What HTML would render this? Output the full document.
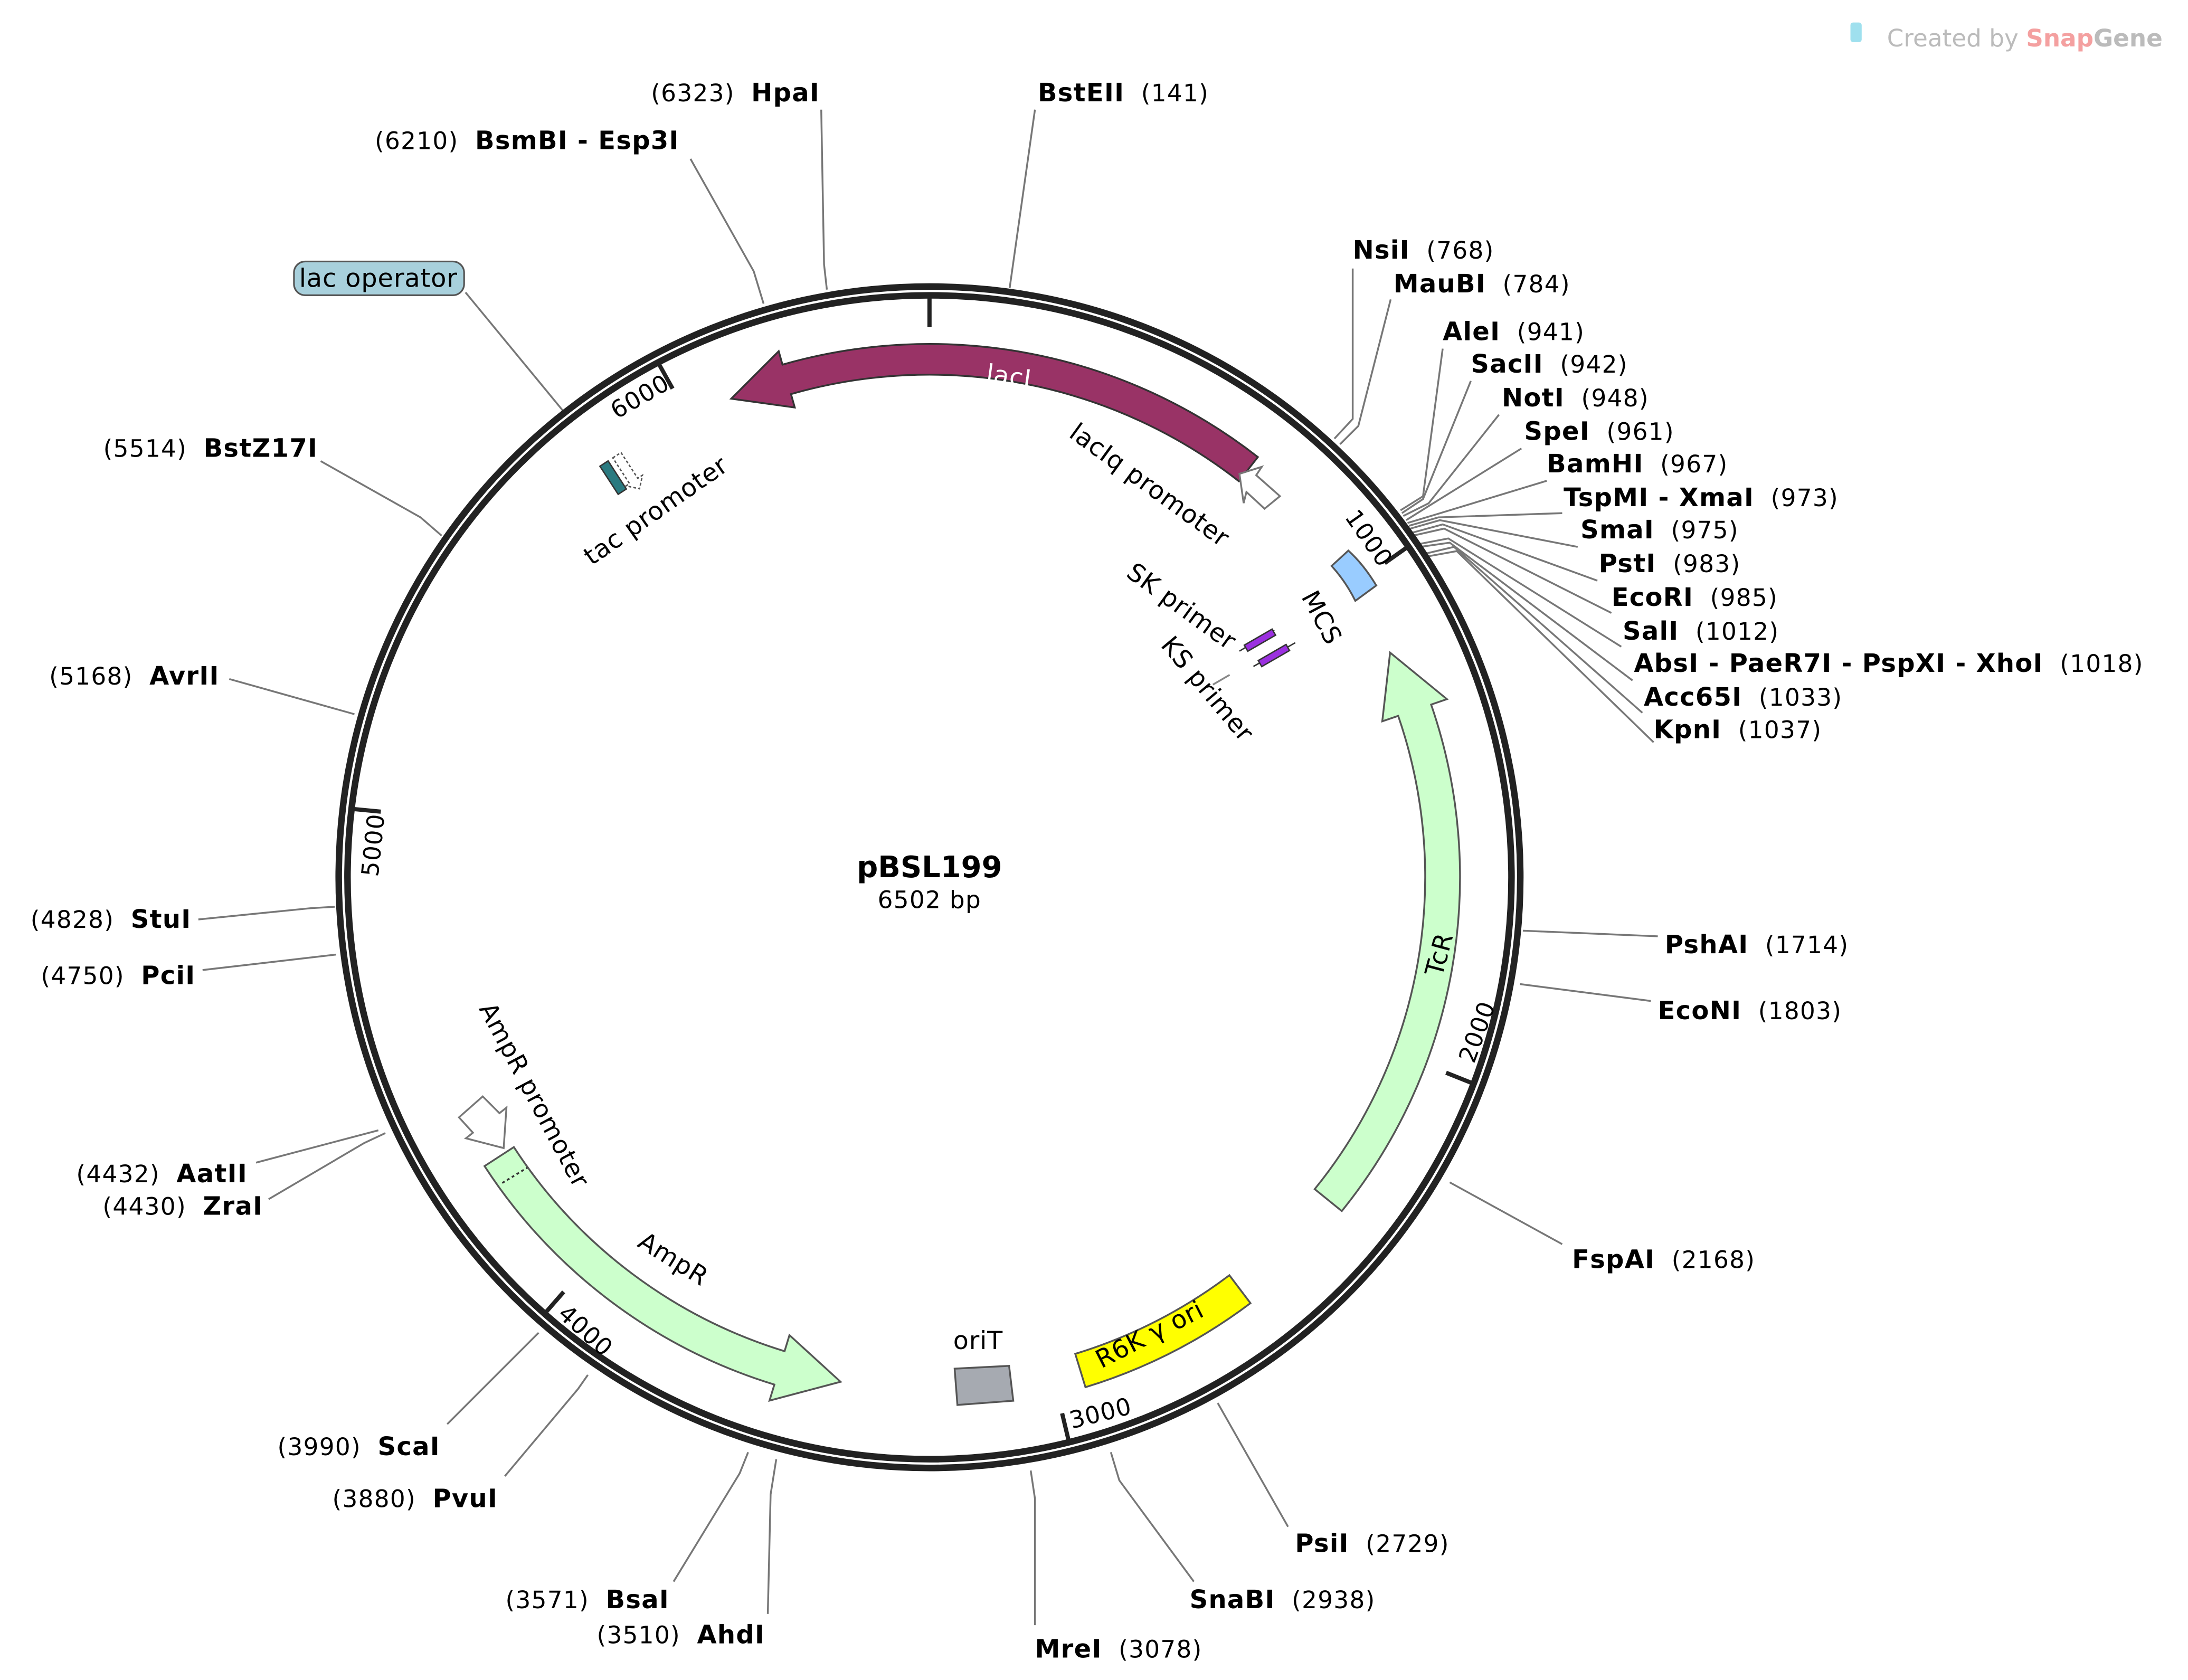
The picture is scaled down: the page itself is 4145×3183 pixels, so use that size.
<!DOCTYPE html>
<html><head><meta charset="utf-8"><style>
html,body{margin:0;padding:0;background:#fff;}
svg{display:block;}
text{font-family:"DejaVu Sans","Liberation Sans",sans-serif;fill:#000;white-space:pre;}
.n{font-weight:bold;font-size:18px;letter-spacing:0.5px;}
.p{font-size:17px;letter-spacing:0.5px;}
.f{font-size:18px;letter-spacing:0.3px;}
.l{stroke:#777;stroke-width:1.3;fill:none;}
</style></head><body>
<svg width="4145" height="3183" viewBox="0 0 1556 1195" xmlns="http://www.w3.org/2000/svg" xml:space="preserve">
<rect width="1556" height="1195" fill="#fff"/>
<text x="1342" y="33" style="font-size:17px;fill:#bbb">Created by <tspan style="fill:#f4a0a0;font-weight:bold">Snap</tspan><tspan style="fill:#bbb;font-weight:bold">Gene</tspan></text>
<rect x="1316" y="16" width="8" height="14" rx="2" fill="#9fe0ee"/>

<g transform="translate(-4,-2)">
<!-- site lines -->
<polyline class="l" points="592,208 590,190 588,80"/>
<polyline class="l" points="722,207 740,80"/>
<polyline class="l" points="547,218 540,195 495,115"/>
<polyline class="l" points="318,383 303,370 232,330"/>
<polyline class="l" points="256,510 167,485"/>
<polyline class="l" points="242,647 225,648 145,656"/>
<polyline class="l" points="243,681 148,692"/>
<polyline class="l" points="273,806 186,829"/>
<polyline class="l" points="278,808 263,815 195,855"/>
<polyline class="l" points="387,950 322,1015"/>
<polyline class="l" points="422,980 415,990 363,1052"/>
<polyline class="l" points="536,1035 530,1050 483,1127"/>
<polyline class="l" points="556,1040 552,1065 550,1150"/>
<polyline class="l" points="737,1048 740,1068 740,1158"/>
<polyline class="l" points="794,1035 800,1055 853,1127"/>
<polyline class="l" points="870,1000 920,1088"/>
<polyline class="l" points="1035,843 1115,887"/>
<polyline class="l" points="1085,702 1178,714"/>
<polyline class="l" points="1087,664 1183,668"/>
<polyline class="l" points="953,314 966,300 966,193"/>
<polyline class="l" points="957,318 970,305 993,215"/>
<polyline class="l" points="1000,365 1016,355 1030,250"/>
<polyline class="l" points="1001,367 1016,357 1050,273"/>
<polyline class="l" points="1002,369 1020,360 1070,297"/>
<polyline class="l" points="1004,372 1020,362 1086,321"/>
<polyline class="l" points="1005,374 1025,368 1104,344"/>
<polyline class="l" points="1006,376 1027,370 1115,367"/>
<polyline class="l" points="1007,378 1028,372 1126,391"/>
<polyline class="l" points="1008,381 1030,375 1140,415"/>
<polyline class="l" points="1009,383 1031,378 1150,438"/>
<polyline class="l" points="1013,389 1034,385 1157,462"/>
<polyline class="l" points="1014,391 1035,388 1165,486"/>
<polyline class="l" points="1017,396 1038,391 1172,509"/>
<polyline class="l" points="1018,398 1040,394 1180,530"/>
<polyline class="l" points="405,295 335,210"/>
</g>

<g transform="translate(661,624) scale(0.993) translate(-665,-628)">
<!-- backbone -->
<circle cx="665" cy="628" r="420" fill="none" stroke="#222" stroke-width="11"/>
<circle cx="665" cy="628" r="420" fill="none" stroke="#fff" stroke-width="1.6"/>

<!-- ticks -->
<g stroke="#222" stroke-width="3">
<line x1="665" y1="213" x2="665" y2="234"/>
<line x1="1008" y1="391" x2="991" y2="403"/>
<line x1="1055" y1="776" x2="1035" y2="768"/>
<line x1="765" y1="1033" x2="760" y2="1012"/>
<line x1="389" y1="941" x2="403" y2="925"/>
<line x1="251" y1="579" x2="272" y2="581"/>
<line x1="471" y1="260" x2="481" y2="278"/>
</g>
<text transform="translate(962,370) rotate(55)" class="p">1000</text>
<text transform="translate(1055,762) rotate(-70)" class="p">2000</text>
<text transform="translate(767,1023) rotate(-14)" class="p">3000</text>
<text transform="translate(398,942) rotate(42)" class="p">4000</text>
<text transform="translate(270,628) rotate(-84)" class="p">5000</text>
<text transform="translate(441,300) rotate(-30)" class="p">6000</text>

<!-- features -->
<path d="M900.2,327 A382 382 0 0 0 559.7,260.8 L557,251.2 L523,285.2 L568.5,291.5 L565.8,281.9 A360 360 0 0 1 886.6,344.3 Z" fill="#993366" stroke="#333" stroke-width="1.3"/>
<text transform="translate(705,273) rotate(8)" class="f" style="fill:#fff">lacI</text>
<polygon points="887,339 903,334 899,340 916,355 905,364 892,352 890,360" fill="#fff" stroke="#777" stroke-width="1.3"/>
<text transform="translate(764,312) rotate(36)" class="f">lacIq promoter</text>

<path d="M960.3,867.1 A380 380 0 0 0 1024.3,504.3 L1035.6,500.4 L994.9,467.1 L989.3,516.3 L1000.7,512.4 A355 355 0 0 1 940.9,851.4 Z" fill="#ccffcc" stroke="#555" stroke-width="1.3"/>
<text transform="translate(1032,700) rotate(-75)" class="f">TcR</text>

<path d="M769.4,969.4 A357 357 0 0 0 879.8,913.1 L894.9,933.1 A382 382 0 0 1 776.7,993.3 Z" fill="#ffff00" stroke="#555" stroke-width="1.3"/>
<text transform="translate(788,980) rotate(-27)" class="f">R6K γ ori</text>

<path d="M683,980 L722,978 L725,1003 L685,1006 Z" fill="#a6aab1" stroke="#555" stroke-width="1.3"/>
<text x="682" y="966" class="f">oriT</text>

<path d="M346.3,834.9 A380 380 0 0 0 553.9,991.4 L550.4,1002.9 L601.3,989.4 L564.7,956.0 L561.2,967.5 A355 355 0 0 1 367.3,821.3 Z" fill="#ccffcc" stroke="#555" stroke-width="1.3"/>
<line x1="359" y1="847" x2="377" y2="836" stroke="#333" stroke-width="1.3" stroke-dasharray="2,2"/>
<text transform="translate(455,892) rotate(32)" class="f">AmpR</text>
<polygon points="328,800 345,785 357,797 362,793 360,822 333,815 338,811" fill="#fff" stroke="#777" stroke-width="1.3"/>
<text transform="translate(342,722) rotate(62)" class="f">AmpR promoter</text>

<g transform="translate(438,342) rotate(-33)">
<rect x="-3" y="-12" width="7" height="24" fill="#2a7a80" stroke="#333" stroke-width="1"/>
<polygon points="8,-12 15,-12 15,10 19,10 12,17 5,10 8,10" fill="#fff" stroke="#555" stroke-width="1" stroke-dasharray="2,1.5"/>
</g>
<text transform="translate(423,405) rotate(-35)" class="f">tac promoter</text>

<path d="M953,405 L965,394 Q976,404 985,419 L970,430 Q963,416 953,405 Z" fill="#99ccff" stroke="#555" stroke-width="1.3"/>
<text transform="translate(931,427) rotate(62)" class="f">MCS</text>
<g stroke="#333" stroke-width="1">
<line x1="887" y1="466" x2="912" y2="451"/>
<line x1="897" y1="477" x2="927" y2="460"/>
</g>
<rect x="890" y="456" width="23" height="5" transform="rotate(-30 901 458)" fill="#9b30e0" stroke="#333" stroke-width="1"/>
<rect x="900" y="467" width="23" height="5" transform="rotate(-30 911 469)" fill="#9b30e0" stroke="#333" stroke-width="1"/>
<line x1="868" y1="490" x2="880" y2="483" stroke="#888" stroke-width="1.3"/>
<text transform="translate(805,412) rotate(36)" class="f">SK primer</text>
<text transform="translate(830,462) rotate(50)" class="f">KS primer</text>
</g>

<text x="661" y="624" text-anchor="middle" style="font-weight:bold;font-size:21px">pBSL199</text>
<text x="661" y="646" text-anchor="middle" class="p">6502 bp</text>

<g transform="translate(-4,-2)">
<rect x="213" y="188" width="121" height="24" rx="8" fill="#a8d0dc" stroke="#555" stroke-width="1.2"/>
<text x="273" y="206" class="f" text-anchor="middle">lac operator</text>
<text x="587" y="74" text-anchor="end"><tspan class="p">(6323)  </tspan><tspan class="n">HpaI</tspan></text>
<text x="742" y="74"><tspan class="n">BstEII</tspan><tspan class="p">  (141)</tspan></text>
<text x="487" y="108" text-anchor="end"><tspan class="p">(6210)  </tspan><tspan class="n">BsmBI - Esp3I</tspan></text>
<text x="230" y="327" text-anchor="end"><tspan class="p">(5514)  </tspan><tspan class="n">BstZ17I</tspan></text>
<text x="160" y="489" text-anchor="end"><tspan class="p">(5168)  </tspan><tspan class="n">AvrII</tspan></text>
<text x="140" y="662" text-anchor="end"><tspan class="p">(4828)  </tspan><tspan class="n">StuI</tspan></text>
<text x="143" y="702" text-anchor="end"><tspan class="p">(4750)  </tspan><tspan class="n">PciI</tspan></text>
<text x="180" y="843" text-anchor="end"><tspan class="p">(4432)  </tspan><tspan class="n">AatII</tspan></text>
<text x="191" y="866" text-anchor="end"><tspan class="p">(4430)  </tspan><tspan class="n">ZraI</tspan></text>
<text x="317" y="1037" text-anchor="end"><tspan class="p">(3990)  </tspan><tspan class="n">ScaI</tspan></text>
<text x="358" y="1074" text-anchor="end"><tspan class="p">(3880)  </tspan><tspan class="n">PvuI</tspan></text>
<text x="480" y="1146" text-anchor="end"><tspan class="p">(3571)  </tspan><tspan class="n">BsaI</tspan></text>
<text x="548" y="1171" text-anchor="end"><tspan class="p">(3510)  </tspan><tspan class="n">AhdI</tspan></text>
<text x="740" y="1181"><tspan class="n">MreI</tspan><tspan class="p">  (3078)</tspan></text>
<text x="850" y="1146"><tspan class="n">SnaBI</tspan><tspan class="p">  (2938)</tspan></text>
<text x="925" y="1106"><tspan class="n">PsiI</tspan><tspan class="p">  (2729)</tspan></text>
<text x="1122" y="904"><tspan class="n">FspAI</tspan><tspan class="p">  (2168)</tspan></text>
<text x="1183" y="727"><tspan class="n">EcoNI</tspan><tspan class="p">  (1803)</tspan></text>
<text x="1188" y="680"><tspan class="n">PshAI</tspan><tspan class="p">  (1714)</tspan></text>
<text x="966" y="186"><tspan class="n">NsiI</tspan><tspan class="p">  (768)</tspan></text>
<text x="995" y="210"><tspan class="n">MauBI</tspan><tspan class="p">  (784)</tspan></text>
<text x="1030" y="244"><tspan class="n">AleI</tspan><tspan class="p">  (941)</tspan></text>
<text x="1050" y="267"><tspan class="n">SacII</tspan><tspan class="p">  (942)</tspan></text>
<text x="1072" y="291"><tspan class="n">NotI</tspan><tspan class="p">  (948)</tspan></text>
<text x="1088" y="315"><tspan class="n">SpeI</tspan><tspan class="p">  (961)</tspan></text>
<text x="1104" y="338"><tspan class="n">BamHI</tspan><tspan class="p">  (967)</tspan></text>
<text x="1116" y="362"><tspan class="n">TspMI - XmaI</tspan><tspan class="p">  (973)</tspan></text>
<text x="1128" y="385"><tspan class="n">SmaI</tspan><tspan class="p">  (975)</tspan></text>
<text x="1141" y="409"><tspan class="n">PstI</tspan><tspan class="p">  (983)</tspan></text>
<text x="1150" y="433"><tspan class="n">EcoRI</tspan><tspan class="p">  (985)</tspan></text>
<text x="1158" y="457"><tspan class="n">SalI</tspan><tspan class="p">  (1012)</tspan></text>
<text x="1166" y="480"><tspan class="n">AbsI - PaeR7I - PspXI - XhoI</tspan><tspan class="p">  (1018)</tspan></text>
<text x="1173" y="504"><tspan class="n">Acc65I</tspan><tspan class="p">  (1033)</tspan></text>
<text x="1180" y="527"><tspan class="n">KpnI</tspan><tspan class="p">  (1037)</tspan></text>
</g>
</svg>
</body></html>
